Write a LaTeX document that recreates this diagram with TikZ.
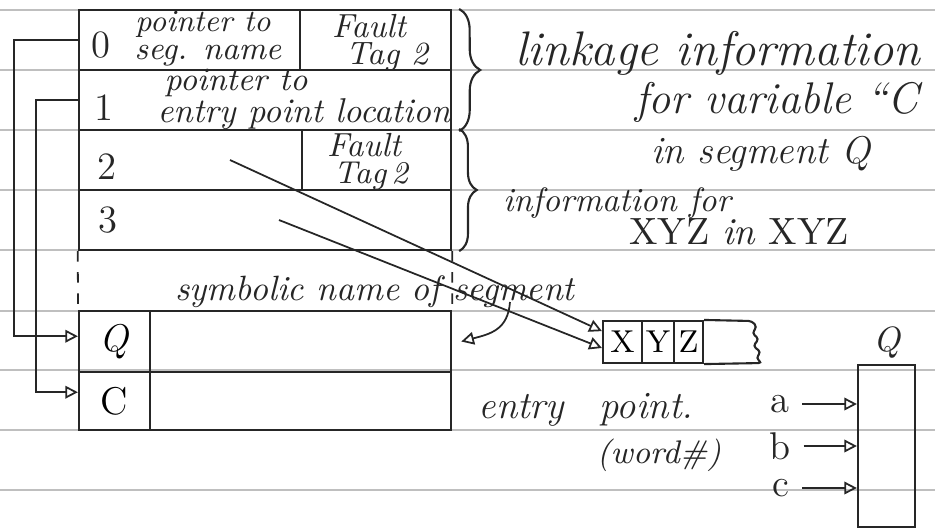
\documentclass[tikz,border=0pt]{standalone}
\usepackage{tikz}
\usetikzlibrary{arrows.meta,positioning,decorations.pathreplacing,calc}

\begin{document}
\begin{tikzpicture}[x=0.01cm, y=-0.01cm,
    cell/.style={draw=black!85, line width=0.6pt, inner sep=0pt, minimum height=0.6cm},
    hand/.style={inner sep=0pt, text=black!85, font=\fontsize{#1pt}{#1pt}\selectfont\itshape},
    hand/.default=10,
    mark/.style={inner sep=0pt, text=black!85, font=\fontsize{#1pt}{#1pt}\selectfont},
    mark/.default=11,
    ptr/.style={-{Triangle[open, length=3.6pt, width=3.6pt]}, draw=black!85, line width=0.5pt},
    brc/.style={decorate, draw=black!85, line width=0.6pt, decoration={brace, amplitude=#1}},
    rule/.style={draw=black!25, line width=0.4pt}
]
\useasboundingbox (0,0) rectangle (935,529);

% paper rules
\foreach \ry in {10,70,130,190,250,311,370,430,490}
  \draw[rule] (0,\ry) -- (935,\ry);

% linkage section
\node[cell, minimum width=2.21cm] (r0l) at (189.5,40) {};
\node[cell, minimum width=1.51cm] (r0r) at (375.5,40) {};
\node[cell, minimum width=3.72cm] (r1) at (265,100) {};
\node[cell, minimum width=2.23cm] (r2l) at (190.5,160) {};
\node[cell, minimum width=1.49cm] (r2r) at (376.5,160) {};
\node[cell, minimum width=3.72cm] (r3) at (265,220) {};

\node[mark] (n0) at (101,45) {0};
\node[hand=8.8] (ptra) at (203,24) {pointer to};
\node[hand=9.2] (segnm) at (208,56) {seg. name};
\node[hand=9.5] (flta) at (369,26) {Fault};
\node[hand=9.2] (taga) at (387,57) {Tag 2};

\node[mark] (n1) at (104,108) {1};
\node[hand=9.3] (ptrb) at (236,83) {pointer to};
\node[hand=9.8] (entloc) at (304,114) {entry point location};

\node[mark] (n2) at (107,167) {2};
\node[hand=9.5] (fltb) at (364,145) {Fault};
\node[hand=9] (tagb) at (371,176) {Tag\,2};

\node[mark] (n3) at (108,220) {3};

% symbol section
\node[cell, minimum width=0.71cm, minimum height=0.61cm, font=\itshape\fontsize{11pt}{11pt}\selectfont] (qn) at (114.5,341.5) {Q};
\node[cell, minimum width=3.01cm, minimum height=0.61cm] (qv) at (300.5,341.5) {};
\node[cell, minimum width=0.71cm, minimum height=0.58cm, font=\fontsize{11pt}{11pt}\selectfont] (cn) at (114.5,401) {C};
\node[cell, minimum width=3.01cm, minimum height=0.58cm] (cv) at (300.5,401) {};

\draw[dashed, draw=black!85, line width=0.5pt] (r3.south west) -- (qn.north west);
\draw[dashed, draw=black!85, line width=0.5pt] (r3.south east) -- (qv.north east);

\node[hand=10] (symname) at (375,292) {symbolic name of segment};
\node[hand=11] (entpt) at (586,410) {entry\hspace{10pt}point.};
\node[hand=9.3] (wordno) at (659,455) {(word\#)};

% braces and notes
\draw[brc=6pt] ([xshift=2pt]r0r.north east) -- ([xshift=2pt]r1.south east);
\draw[brc=5pt] ([xshift=2pt]r2r.north east) -- ([xshift=2pt]r3.south east);

\node[hand=13.8] (linkinfo) at (718,53) {linkage information};
\node[hand=12.6] (forvar) at (777,102) {for variable ``C};
\node[hand=11] (inseg) at (761,154) {in segment Q};
\node[hand=9.6] (infofor) at (617,203) {information for};
\node[hand=10.8] (xyzxyz) at (739,232) {\upshape XYZ \itshape in \upshape XYZ};

% XYZ string
\node[cell, minimum width=0.39cm, minimum height=0.42cm, font=\fontsize{9pt}{9pt}\selectfont] (xc) at (622.5,342) {X};
\node[cell, minimum width=0.32cm, minimum height=0.42cm, font=\fontsize{9pt}{9pt}\selectfont] (yc) at (658,342) {Y};
\node[cell, minimum width=0.29cm, minimum height=0.42cm, font=\fontsize{9pt}{9pt}\selectfont] (zc) at (688.5,342) {Z};
\draw[draw=black!85, line width=0.6pt, rounded corners=1pt]
  (zc.north east) -- (752,321) -- (757,327) -- (752,333) -- (759,339)
  -- (753,346) -- (761,352) -- (756,358) -- (762,363) -- (zc.south east);

% segment Q
\node[cell, minimum width=0.57cm, minimum height=1.62cm] (qbox) at (886.5,446) {};
\node[hand=10, above=1.5pt of qbox] (qtop) {Q};
\node[mark] (la) at (780,404) {a};
\node[mark] (lb) at (780,446) {b};
\node[mark] (lc) at (781,488) {c};

% pointers
\draw[ptr] (r0l.west) -- ++(-64,0) |- ([yshift=1.5pt]qn.west);
\draw[ptr] (r1.west) -- ++(-42,0) |- ([yshift=2.5pt]cn.west);
\coordinate (d2) at (230,160);
\coordinate (d3) at (279,220);
\draw[ptr] (d2) -- ([yshift=3.1pt]xc.west);
\draw[ptr] (d3) -- ([yshift=-1.7pt]xc.west);
\coordinate (segtail) at (510,302);
\draw[ptr] (segtail) .. controls (508,330) and (490,334) .. ([xshift=2.6pt]qv.east);
\draw[ptr, shorten <=3.5pt] (la.east) -- (la.east -| qbox.west);
\draw[ptr, shorten <=3.5pt] (lb.east) -- (lb.east -| qbox.west);
\draw[ptr, shorten <=3.5pt] (lc.east) -- (lc.east -| qbox.west);
\end{tikzpicture}
\end{document}
